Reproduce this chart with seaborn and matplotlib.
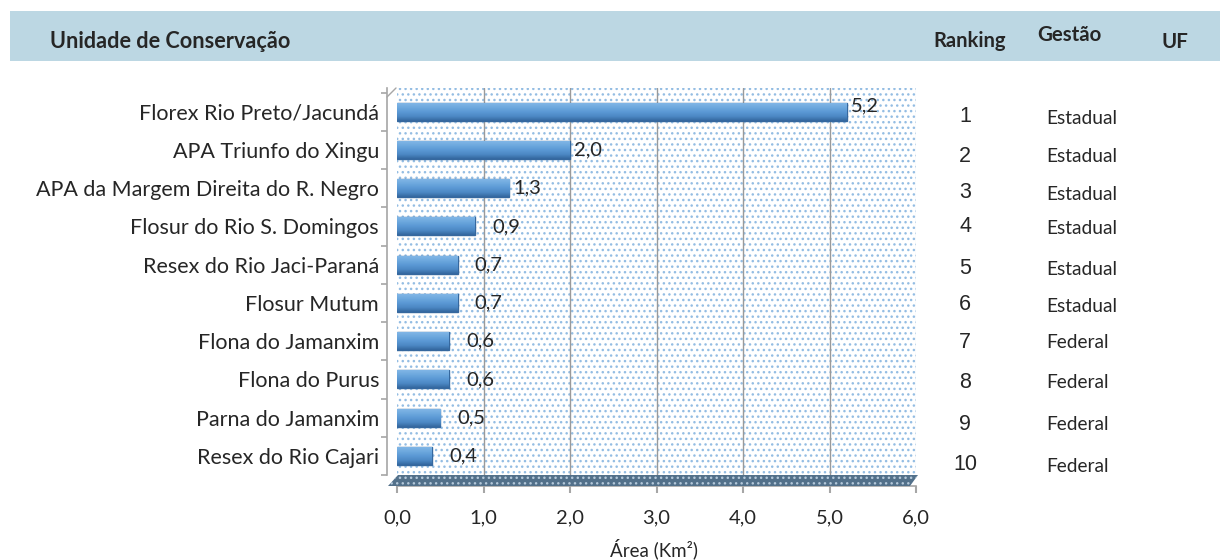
import matplotlib
matplotlib.use("Agg")
import matplotlib.pyplot as plt
import seaborn as sns
import numpy as np
import pandas as pd
from matplotlib.patches import Rectangle, Polygon
from matplotlib.lines import Line2D
from matplotlib.colors import LinearSegmentedColormap

categories = ["Florex Rio Preto/Jacundá", "APA Triunfo do Xingu",
              "APA da Margem Direita do R. Negro", "Flosur do Rio S. Domingos",
              "Resex do Rio Jaci-Paraná", "Flosur Mutum", "Flona do Jamanxim",
              "Flona do Purus", "Parna do Jamanxim", "Resex do Rio Cajari"]
values = [5.2, 2.0, 1.3, 0.9, 0.7, 0.7, 0.6, 0.6, 0.5, 0.4]
value_labels = ["5,2", "2,0", "1,3", "0,9", "0,7", "0,7", "0,6", "0,6", "0,5", "0,4"]
ranking = ["1", "2", "3", "4", "5", "6", "7", "8", "9", "10"]
gestao = ["Estadual"] * 6 + ["Federal"] * 4
xticks = [0, 1, 2, 3, 4, 5, 6]
xtick_labels = ["0,0", "1,0", "2,0", "3,0", "4,0", "5,0", "6,0"]
header = ["Unidade de Conservação", "Ranking", "Gestão", "UF"]
xlabel = "Área (Km²)"

sns.set_theme(style="white")
plt.rcParams["font.family"] = ["Lato", "DejaVu Sans"]
plt.rcParams["hatch.linewidth"] = 1.0

W, H = 1220, 560
PT = 0.72  # points per pixel at dpi 100
fig = plt.figure(figsize=(W / 100, H / 100), dpi=100)
TXT = "#262626"


def fx(x):
    return x / W


def fy(y):
    return 1 - y / H


# header band
fig.patches.append(Rectangle((fx(10), fy(61)), fx(1210), 50 / H, transform=fig.transFigure,
                             facecolor="#BCD7E3", edgecolor="none", zorder=0))
fig.text(fx(50), fy(42), header[0], fontsize=15.6, fontweight="bold", color=TXT,
         ha="left", va="center")
fig.text(fx(970), fy(41), header[1], fontsize=14.5, fontweight="bold", color=TXT,
         ha="center", va="center")
fig.text(fx(1069), fy(35), header[2], fontsize=14.8, fontweight="bold", color=TXT,
         ha="center", va="center")
fig.text(fx(1175), fy(42), header[3], fontsize=14.8, fontweight="bold", color=TXT,
         ha="center", va="center")

# axes
left, right, top, bottom = 397, 916, 88, 475
ax = fig.add_axes([fx(left), fy(bottom), (right - left) / W, (bottom - top) / H])

bg = Rectangle((0, 0), 1, 1, transform=ax.transAxes, facecolor="white",
               edgecolor="#94BDE3", hatch="...", linewidth=0, zorder=0)
ax.add_patch(bg)
ax.set_facecolor("white")

df = pd.DataFrame({"cat": categories, "val": values})
sns.barplot(data=df, y="cat", x="val", orient="h", color="#5693CF",
            edgecolor="#36689E", linewidth=1.0, width=0.47, saturation=1, ax=ax, zorder=3)

# cylinder-like shading on each bar
cmap = LinearSegmentedColormap.from_list(
    "bar", ["#80B6E6", "#6DA8DE", "#5A98D4", "#4C88C4", "#33679E"])
grad = np.linspace(0, 1, 64).reshape(-1, 1)
for p in ax.containers[0]:
    x0, y0 = p.get_x(), p.get_y()
    w, h = p.get_width(), p.get_height()
    im = ax.imshow(grad, cmap=cmap, aspect="auto", extent=(x0, x0 + w, y0 + h, y0),
                   origin="upper", zorder=3.5, interpolation="bilinear")
    im.set_clip_path(p)

ax.set_xlim(0, 6)
ax.set_ylim(9 + 0.36, -0.62)
ax.set_xticks(xticks)
ax.set_xticklabels(xtick_labels)
ax.set_xlabel("")
ax.set_ylabel("")
ax.set_yticks(range(len(categories)))
ax.set_yticklabels(categories)
ax.set_yticks([i + 0.5 for i in range(-1, len(categories))], minor=True)
ax.tick_params(axis="y", which="major", length=0, pad=8 * PT, labelsize=15.5, labelcolor=TXT)
ax.tick_params(axis="y", which="minor", length=6 * PT, color="#A6A6A6", width=1.2, left=True)
ax.tick_params(axis="x", which="major", length=7 * PT, color="#A6A6A6", width=1.5,
               bottom=True, pad=16 * PT, labelsize=14.5, labelcolor=TXT)

for x in [1, 2, 3, 4, 5]:
    ax.axvline(x, color="#9A9A9A", lw=1, zorder=1)
ax.axvline(6, color="#C8C8C8", lw=0.8, zorder=1)

for s in ["top", "right"]:
    ax.spines[s].set_visible(False)
ax.spines["left"].set_position(("outward", 10 * PT))
ax.spines["left"].set_color("#A6A6A6")
ax.spines["left"].set_linewidth(1.2)
ax.spines["bottom"].set_position(("outward", 11 * PT))
ax.spines["bottom"].set_color("#A6A6A6")
ax.spines["bottom"].set_linewidth(1.2)

# value labels
for i, (v, lab) in enumerate(zip(values, value_labels)):
    off = 0.05 if v >= 1 else 0.2
    dy = -0.15 if i == 0 else 0
    ax.text(v + off, i + dy, lab, fontsize=14.5, color=TXT, ha="left", va="center", zorder=5)

# floor
floor = Polygon([(fx(388), fy(486)), (fx(910), fy(486)), (fx(918), fy(475)), (fx(398), fy(475))],
                closed=True, transform=fig.transFigure, facecolor="#52708A",
                edgecolor="#B4C8DA", hatch="...", linewidth=0, zorder=1)
fig.patches.append(floor)
fig.lines.append(Line2D([fx(387), fx(396)], [fy(97), fy(88)], transform=fig.transFigure,
                        color="#A6A6A6", lw=1))

fig.text(fx(654), fy(549), xlabel, fontsize=13.5, color=TXT, ha="center", va="center")

# ranking and gestao columns
ys = [117, 156, 193, 227, 268, 305, 342, 382, 424, 465]
for i, (r, g) in enumerate(zip(ranking, gestao)):
    fig.text(fx(965), fy(ys[i]), r, fontsize=15.5, color=TXT, ha="center", va="center",
             family=["Liberation Sans", "DejaVu Sans"])
    fig.text(fx(1046), fy(ys[i] + 1), g, fontsize=13.8, color=TXT, ha="left", va="center")

fig.savefig("out.png", dpi=100)
